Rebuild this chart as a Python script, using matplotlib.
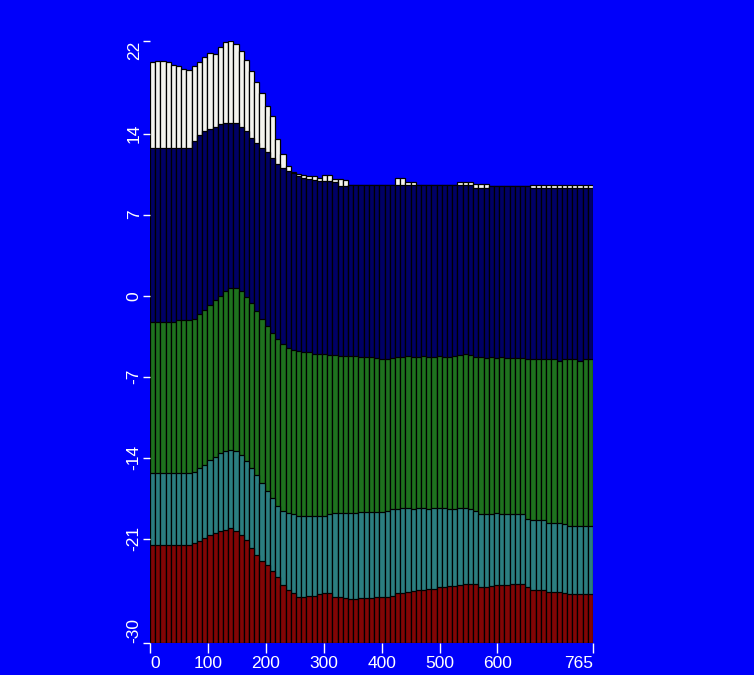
import numpy as np
import matplotlib
matplotlib.use("Agg")
import matplotlib.pyplot as plt

# bins of width 9 along 0..765
bin_start = np.arange(0, 765, 9)
bin_width = 9

# top of each band, bottom of the stack is -30
red_top = [-21.5, -21.5, -21.5, -21.5, -21.5, -21.5, -21.5, -21.5, -21.4, -21.2,
           -20.9, -20.7, -20.5, -20.3, -20.2, -20.1, -20.3, -20.7, -21.1, -21.8,
           -22.4, -22.9, -23.3, -23.8, -24.3, -25.0, -25.4, -25.7, -26.0, -26.0,
           -25.9, -25.9, -25.8, -25.7, -25.7, -26.0, -26.0, -26.1, -26.2, -26.2,
           -26.1, -26.1, -26.1, -26.0, -26.0, -26.0, -25.9, -25.7, -25.7, -25.6,
           -25.5, -25.4, -25.4, -25.3, -25.3, -25.2, -25.2, -25.1, -25.1, -25.0,
           -24.9, -24.9, -24.9, -25.2, -25.2, -25.1, -25.0, -25.0, -25.0, -24.9,
           -24.9, -24.9, -25.2, -25.4, -25.4, -25.4, -25.6, -25.6, -25.6, -25.7,
           -25.8, -25.8, -25.8, -25.8, -25.8]
teal_top = [-15.3, -15.3, -15.3, -15.3, -15.3, -15.3, -15.3, -15.3, -15.2, -14.9,
            -14.6, -14.2, -13.9, -13.6, -13.4, -13.3, -13.4, -13.8, -14.3, -14.9,
            -15.5, -16.2, -16.9, -17.5, -18.2, -18.6, -18.8, -18.9, -19.0, -19.0,
            -19.0, -19.0, -19.0, -19.0, -18.9, -18.8, -18.8, -18.8, -18.8, -18.8,
            -18.7, -18.7, -18.7, -18.7, -18.65, -18.6, -18.4, -18.4, -18.3, -18.3,
            -18.4, -18.3, -18.3, -18.4, -18.3, -18.3, -18.3, -18.4, -18.4, -18.3,
            -18.3, -18.4, -18.6, -18.9, -18.9, -18.9, -18.8, -18.9, -18.9, -18.9,
            -18.9, -18.9, -19.3, -19.4, -19.4, -19.4, -19.6, -19.6, -19.6, -19.7,
            -19.9, -19.9, -19.9, -19.9, -19.9]
green_top = [-2.3, -2.3, -2.3, -2.3, -2.3, -2.1, -2.1, -2.1, -2.0, -1.6,
             -1.2, -0.8, -0.4, 0.0, 0.4, 0.7, 0.7, 0.4, -0.1, -0.6,
             -1.3, -2.0, -2.6, -3.2, -3.7, -4.2, -4.5, -4.7, -4.8, -4.9,
             -4.9, -5.0, -5.0, -5.0, -5.1, -5.1, -5.2, -5.2, -5.2, -5.2,
             -5.3, -5.3, -5.3, -5.4, -5.5, -5.5, -5.4, -5.3, -5.3, -5.2,
             -5.3, -5.3, -5.2, -5.3, -5.3, -5.2, -5.3, -5.3, -5.2, -5.1,
             -5.0, -5.1, -5.3, -5.3, -5.4, -5.3, -5.4, -5.3, -5.4, -5.4,
             -5.4, -5.4, -5.5, -5.5, -5.5, -5.5, -5.5, -5.5, -5.6, -5.5,
             -5.5, -5.5, -5.6, -5.5, -5.5]
navy_top = [12.8, 12.8, 12.8, 12.8, 12.8, 12.8, 12.8, 12.8, 13.4, 13.9,
            14.2, 14.4, 14.6, 14.8, 14.9, 14.9, 14.9, 14.6, 14.2, 13.6,
            13.2, 12.8, 12.4, 11.9, 11.4, 11.0, 10.8, 10.6, 10.3, 10.2,
            10.1, 10.0, 9.9, 9.9, 9.9, 9.8, 9.5, 9.5, 9.6, 9.6,
            9.6, 9.6, 9.6, 9.6, 9.6, 9.6, 9.6, 9.6, 9.6, 9.6,
            9.6, 9.6, 9.6, 9.6, 9.6, 9.6, 9.6, 9.6, 9.6, 9.6,
            9.6, 9.6, 9.3, 9.3, 9.3, 9.5, 9.5, 9.5, 9.5, 9.5,
            9.5, 9.5, 9.5, 9.3, 9.3, 9.3, 9.3, 9.3, 9.3, 9.3,
            9.3, 9.3, 9.3, 9.3, 9.3]
white_top = [20.2, 20.3, 20.3, 20.2, 19.9, 19.8, 19.6, 19.5, 19.8, 20.2,
             20.6, 21.0, 20.9, 21.5, 21.9, 22.0, 21.7, 21.1, 20.4, 19.4,
             18.5, 17.5, 16.4, 15.5, 13.5, 12.2, 11.2, 10.7, 10.5, 10.4,
             10.3, 10.3, 10.2, 10.4, 10.4, 10.1, 10.1, 10.0, 9.6, 9.6,
             9.6, 9.6, 9.6, 9.6, 9.6, 9.6, 9.6, 10.2, 10.2, 9.8,
             9.8, 9.6, 9.6, 9.6, 9.6, 9.6, 9.6, 9.6, 9.6, 9.8,
             9.8, 9.8, 9.65, 9.65, 9.65, 9.5, 9.5, 9.5, 9.5, 9.5,
             9.5, 9.5, 9.5, 9.6, 9.6, 9.6, 9.6, 9.6, 9.6, 9.6,
             9.6, 9.6, 9.6, 9.6, 9.6]

y_ticks = [22, 14, 7, 0, -7, -14, -21, -30]
x_ticks = [0, 100, 200, 300, 400, 500, 600, 765]
base = -30

bg = "#0000fa"
fig = plt.figure(figsize=(7.54, 6.75), dpi=100, facecolor=bg)
ax = fig.add_axes([150 / 754, 32 / 675, 443 / 754, 602 / 675], facecolor=bg)

# tallest band first, each later band drawn over it from the base
bands = [(white_top, "#f4f4ee"), (navy_top, "#000066"), (green_top, "#1e721e"),
         (teal_top, "#2b7e80"), (red_top, "#820505")]
for tops, col in bands:
    h = np.array(tops) - base
    ax.bar(bin_start, h, width=bin_width, bottom=base, align="edge",
           color=col, edgecolor="black", linewidth=0.9)

ax.set_xlim(0, 765)
ax.set_ylim(-30, 22)
for s in ax.spines.values():
    s.set_visible(False)

ax.set_yticks(y_ticks)
ax.set_yticklabels([str(v) for v in y_ticks], rotation=90,
                   family="Liberation Sans", fontsize=12.5, color="white")
ax.set_xticks(x_ticks)
ax.set_xticklabels([str(v) for v in x_ticks], family="Liberation Sans",
                   fontsize=12.5, color="white")
ax.tick_params(axis="y", colors="white", length=5, width=1, direction="out", pad=1)
ax.tick_params(axis="x", colors="white", length=7, width=1, direction="out", pad=2)

# end labels sit inside the axis range, like the original
ylabs = ax.get_yticklabels()
for lab in ylabs:
    lab.set_va("center")
ylabs[0].set_va("top")
ylabs[-1].set_va("bottom")
xlabs = ax.get_xticklabels()
xlabs[0].set_ha("left")
xlabs[-1].set_ha("right")

fig.savefig("out.png", dpi=100, facecolor=bg)
